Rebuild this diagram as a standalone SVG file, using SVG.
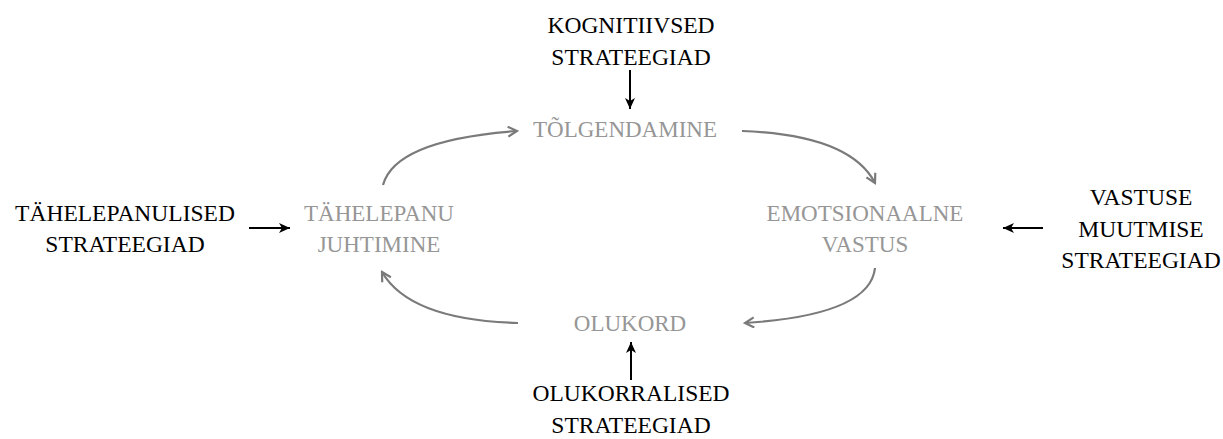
<svg xmlns="http://www.w3.org/2000/svg" width="1223" height="439" viewBox="0 0 1223 439">
<style>
.blk{font-family:"Liberation Serif","Times New Roman",serif;font-size:23.5px;fill:#000;text-anchor:middle}
.gry{font-family:"Liberation Serif","Times New Roman",serif;font-size:23px;fill:#969696;text-anchor:middle}
.ca{fill:none;stroke:#7a7a7a;stroke-width:2.2;marker-end:url(#gh)}
.sa{fill:none;stroke:#000;stroke-width:2;marker-end:url(#bh)}
</style>
<defs>
<marker id="gh" viewBox="0 0 12 12" refX="10" refY="6" markerWidth="12" markerHeight="12" markerUnits="userSpaceOnUse" orient="auto">
<path d="M1,1 L10,6 L1,11" fill="none" stroke="#7a7a7a" stroke-width="2.2"/>
</marker>
<marker id="bh" viewBox="0 0 12 12" refX="11" refY="6" markerWidth="12" markerHeight="12" markerUnits="userSpaceOnUse" orient="auto">
<path d="M0,1 L11,6 L0,11 L3,6 Z" fill="#000"/>
</marker>
</defs>
<rect width="1223" height="439" fill="#fff"/>
<g id="node-tolgendamine"><text class="gry" x="625" y="137">TÕLGENDAMINE</text></g>
<g id="node-tahelepanu"><text class="gry" x="379" y="221">TÄHELEPANU</text><text class="gry" x="379" y="252">JUHTIMINE</text></g>
<g id="node-emotsionaalne"><text class="gry" x="865" y="221">EMOTSIONAALNE</text><text class="gry" x="865" y="252">VASTUS</text></g>
<g id="node-olukord"><text class="gry" x="630" y="331">OLUKORD</text></g>
<g id="node-kognitiivsed"><text class="blk" x="631" y="33">KOGNITIIVSED</text><text class="blk" x="631" y="65">STRATEEGIAD</text></g>
<g id="node-tahelepanulised"><text class="blk" x="125" y="221">TÄHELEPANULISED</text><text class="blk" x="125" y="252">STRATEEGIAD</text></g>
<g id="node-vastuse"><text class="blk" x="1141" y="205">VASTUSE</text><text class="blk" x="1141" y="237">MUUTMISE</text><text class="blk" x="1141" y="268">STRATEEGIAD</text></g>
<g id="node-olukorralised"><text class="blk" x="631" y="401">OLUKORRALISED</text><text class="blk" x="631" y="433">STRATEEGIAD</text></g>
<g id="connectors">
<path class="ca" d="M383,185 Q395,140 517,131"/>
<path class="ca" d="M742,131 Q850,135 875,183"/>
<path class="ca" d="M875,268 Q870,315 745,323"/>
<path class="ca" d="M518,323 Q410,320 382,272"/>
<path class="sa" d="M630,70 L630,109"/>
<path class="sa" d="M249,228 L290,228"/>
<path class="sa" d="M1043,228 L1003,228"/>
<path class="sa" d="M631,380 L631,342"/>
</g>
</svg>
